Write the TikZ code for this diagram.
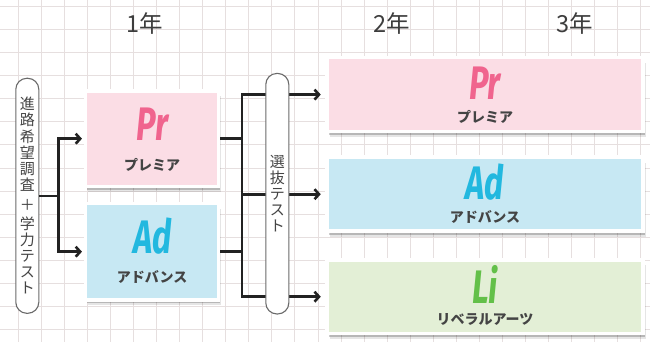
\documentclass[tikz,border=0pt]{standalone}
\usepackage{fontspec}
\usepackage{graphicx}
\usetikzlibrary{arrows.meta,shadows,calc}
\newfontfamily\jp{Noto Sans CJK JP}
\newfontfamily\lat{Fira Sans}
\definecolor{gridcol}{HTML}{E6DFDF}
\definecolor{linecol}{HTML}{222222}
\definecolor{txtgray}{HTML}{444444}
\definecolor{pillborder}{HTML}{6A6A6A}
\definecolor{pinkfill}{HTML}{FBDDE5}
\definecolor{pinktext}{HTML}{F0648E}
\definecolor{bluefill}{HTML}{C7E8F3}
\definecolor{bluetext}{HTML}{22B8DF}
\definecolor{greenfill}{HTML}{E3EFD6}
\definecolor{greentext}{HTML}{63C049}
\begin{document}
\begin{tikzpicture}[x=1pt,y=-1pt,
  gridline/.style={draw=gridcol,line width=0.9pt},
  head/.style={font=\jp\fontsize{23.5}{23.5}\selectfont,text=txtgray!90!black,inner sep=0},
  pill/.style={draw=pillborder,line width=1.1pt,fill=white,rounded corners=11pt,
    minimum width=23pt,inner sep=0,align=center,text=txtgray,
    font=\jp\fontsize{15}{16.1}\selectfont},
  card/.style={draw=white,line width=3.5pt,inner sep=0,
    drop shadow={shadow xshift=2.5pt,shadow yshift=-5.5pt,opacity=0.10,fill=black},
    drop shadow={shadow xshift=1.5pt,shadow yshift=-3.5pt,opacity=0.20,fill=black}},
  logo/.style={inner sep=0,anchor=base,text depth=0pt,
    font=\lat\bfseries\itshape\fontsize{47}{47}\selectfont},
  lbl/.style={inner sep=0,text=txtgray,font=\jp\bfseries\fontsize{14}{14}\selectfont},
  conn/.style={draw=linecol,line width=2.6pt},
  arr/.style={conn,-{Straight Barb[length=4.5pt,width=10pt]}}
]
\useasboundingbox (0,0) rectangle (650,342);
\fill[white] (0,0) rectangle (650,342);
\foreach \i in {0,...,27} \draw[gridline] ({18.3+23.05*\i},0) -- ({18.3+23.05*\i},342);
\foreach \j in {0,...,14} \draw[gridline] (0,{6.6+23.05*\j}) -- (650,{6.6+23.05*\j});

% headings
\node[head] (h1) at (144.5,24) {1年};
\node[head] (h2) at (392,24) {2年};
\node[head] (h3) at (575,24) {3年};

% cards
\node[card,fill=pinkfill,minimum width=133pt,minimum height=95.5pt] (b1pr) at (152.2,138.7) {};
\node[card,fill=bluefill,minimum width=133pt,minimum height=96.5pt] (b1ad) at (152.2,251.7) {};
\node[card,fill=pinkfill,minimum width=316pt,minimum height=74pt] (b2pr) at (485,94.6) {};
\node[card,fill=bluefill,minimum width=316pt,minimum height=74pt] (b2ad) at (485,194.2) {};
\node[card,fill=greenfill,minimum width=316pt,minimum height=73.5pt] (b2li) at (485,296.7) {};

% card texts
\node[logo,text=pinktext] (t1pr) at ($(b1pr.center)+(0,1.5)$) {\scalebox{0.7}[1]{Pr}};
\node[lbl] (l1pr) at ($(b1pr.center)+(0,26)$) {プレミア};
\node[logo,text=bluetext] (t1ad) at ($(b1ad.center)+(0,1.8)$) {\scalebox{0.7}[1]{Ad}};
\node[lbl] (l1ad) at ($(b1ad.center)+(0,25.6)$) {アドバンス};
\node[logo,text=pinktext] (t2pr) at ($(b2pr.center)+(0,5.4)$) {\scalebox{0.7}[1]{Pr}};
\node[lbl] (l2pr) at ($(b2pr.center)+(0,22.5)$) {プレミア};
\node[logo,text=bluetext] (t2ad) at ($(b2ad.center)+(0,5.2)$) {\scalebox{0.7}[1]{Ad}};
\node[lbl] (l2ad) at ($(b2ad.center)+(0,23)$) {アドバンス};
\node[logo,text=greentext] (t2li) at ($(b2li.center)+(0,6.8)$) {\scalebox{0.7}[1]{Li}};
\node[lbl] (l2li) at ($(b2li.center)+(0,23)$) {リベラルアーツ};

% left pill and connectors
\node[pill,minimum height=235pt] (p1) at (27.3,195.8)
  {進\\路\\希\\望\\調\\査\\[4pt]＋\\[3pt]学\\力\\テ\\ス\\ト};
\coordinate (f1) at (58.3,195.8);
\draw[conn] (p1.east) -- (f1);
\draw[arr,shorten >=2pt] (f1) |- (b1pr.west);
\draw[arr,shorten >=2pt] (f1) |- (b1ad.west);

% right connectors
\coordinate (f2) at (242,194.2);
\draw[conn] (b1pr.east) -- (b1pr.east -| f2);
\draw[conn] (b1ad.east) -- (b1ad.east -| f2);
\draw[arr,shorten >=4.5pt] (f2) |- (b2pr.west);
\draw[arr,shorten >=4.5pt] (f2) -- (b2ad.west);
\draw[arr,shorten >=4.5pt] (f2) |- (b2li.west);

% second pill on top
\node[pill,minimum height=240.5pt] (p2) at (277.3,193.7)
  {選\\抜\\テ\\ス\\ト};
\end{tikzpicture}
\end{document}
